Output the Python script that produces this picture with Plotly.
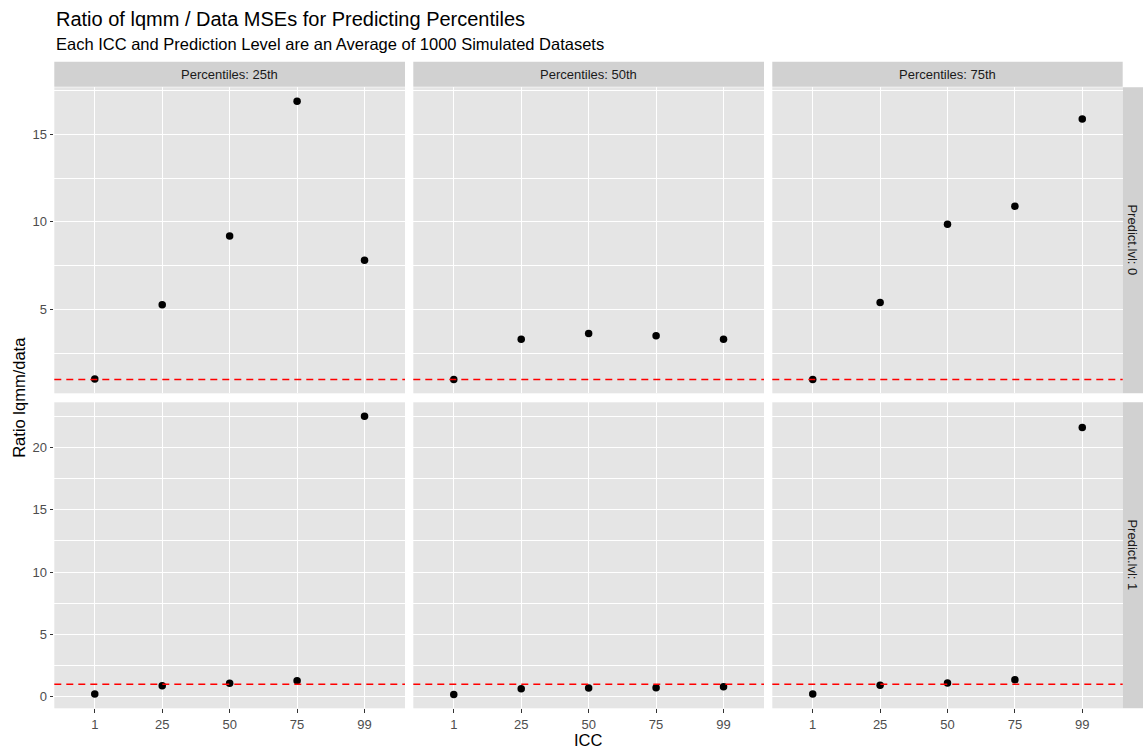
import plotly.graph_objects as go

# ICC levels (discrete x categories)
icc = ["1", "25", "50", "75", "99"]

# Ratio lqmm/data MSE, prediction level 0
p25_lvl0 = [1.02, 5.26, 9.20, 16.90, 7.81]
p50_lvl0 = [1.00, 3.29, 3.63, 3.49, 3.29]
p75_lvl0 = [1.00, 5.40, 9.87, 10.90, 15.89]

# Ratio lqmm/data MSE, prediction level 1
p25_lvl1 = [0.21, 0.88, 1.07, 1.28, 22.50]
p50_lvl1 = [0.18, 0.64, 0.70, 0.72, 0.80]
p75_lvl1 = [0.22, 0.91, 1.10, 1.36, 21.60]

col_labels = ["Percentiles: 25th", "Percentiles: 50th", "Percentiles: 75th"]
row_labels = ["Predict.lvl: 0", "Predict.lvl: 1"]
ref_line = 1.0

rows = [[p25_lvl0, p50_lvl0, p75_lvl0], [p25_lvl1, p50_lvl1, p75_lvl1]]
row_major = [[5, 10, 15], [0, 5, 10, 15, 20]]
row_minor = [[2.5, 7.5, 12.5, 17.5], [2.5, 7.5, 12.5, 17.5, 22.5]]

W, H = 1143, 750
FONT = "Liberation Sans, Arial, Helvetica, sans-serif"
PANEL_BG = "#E5E5E5"
STRIP_BG = "#D1D1D1"
TICK_SIZE = 13
STRIP_SIZE = 13

# panel pixel boxes
col_px = [(54.3, 405.0), (413.3, 764.0), (772.3, 1122.7)]
row_px = [(87.3, 393.3), (402.3, 708.3)]
strip_top = (61.7, 86.7)
strip_right = (1122.7, 1143.0)


def px_x(v):
    return v / W


def px_y(v):
    return 1 - v / H


def expanded(vals):
    lo, hi = min(vals), max(vals)
    pad = 0.05 * (hi - lo)
    return [lo - pad, hi + pad]


fig = go.Figure()
layout = dict(
    width=W, height=H,
    margin=dict(l=0, r=0, t=0, b=0),
    paper_bgcolor="white",
    plot_bgcolor=PANEL_BG,
    showlegend=False,
    font=dict(family=FONT, color="#4D4D4D"),
)
shapes = []
annotations = []

for r in range(2):
    row_vals = [v for series in rows[r] for v in series] + [ref_line]
    yr = expanded(row_vals)
    for c in range(3):
        idx = r * 3 + c + 1
        xa = "xaxis" if idx == 1 else f"xaxis{idx}"
        ya = "yaxis" if idx == 1 else f"yaxis{idx}"
        xref = "x" if idx == 1 else f"x{idx}"
        yref = "y" if idx == 1 else f"y{idx}"

        layout[xa] = dict(
            domain=[px_x(col_px[c][0]), px_x(col_px[c][1])],
            anchor=yref,
            type="category",
            categoryorder="array",
            categoryarray=icc,
            range=[-0.6, len(icc) - 0.4],
            showgrid=True, gridcolor="white", gridwidth=1.1,
            zeroline=False, showline=False,
            ticks="outside" if r == 1 else "",
            ticklen=3.7, tickcolor="#333333", tickwidth=1,
            showticklabels=(r == 1),
            tickfont=dict(size=TICK_SIZE, color="#4D4D4D", family=FONT),
            fixedrange=True,
        )
        layout[ya] = dict(
            domain=[px_y(row_px[r][1]), px_y(row_px[r][0])],
            anchor=xref,
            range=yr,
            tickmode="array",
            tickvals=row_major[r],
            ticktext=[str(v) for v in row_major[r]],
            showgrid=True, gridcolor="white", gridwidth=1.1,
            minor=dict(tickvals=row_minor[r], showgrid=True,
                       gridcolor="white", gridwidth=0.55, ticks=""),
            zeroline=False, showline=False,
            ticks="outside" if c == 0 else "",
            ticklen=3.7, tickcolor="#333333", tickwidth=1,
            showticklabels=(c == 0),
            tickfont=dict(size=TICK_SIZE, color="#4D4D4D", family=FONT),
            fixedrange=True,
        )

        fig.add_trace(go.Scatter(
            x=icc, y=rows[r][c], mode="markers",
            marker=dict(color="black", size=7.5, line=dict(width=0)),
            xaxis=xref, yaxis=yref, cliponaxis=False,
        ))

        # horizontal reference line at ratio 1
        shapes.append(dict(
            type="line", xref=f"{xref} domain", yref=yref,
            x0=0, x1=1, y0=ref_line, y1=ref_line,
            line=dict(color="#FF0000", width=1.5, dash="7px,5px"),
            layer="above",
        ))

# column strips
for c in range(3):
    shapes.append(dict(
        type="rect", xref="paper", yref="paper",
        x0=px_x(col_px[c][0]), x1=px_x(col_px[c][1]),
        y0=px_y(strip_top[1]), y1=px_y(strip_top[0]),
        fillcolor=STRIP_BG, line=dict(width=0), layer="below",
    ))
    annotations.append(dict(
        text=col_labels[c], xref="paper", yref="paper",
        x=px_x((col_px[c][0] + col_px[c][1]) / 2),
        y=px_y((strip_top[0] + strip_top[1]) / 2),
        showarrow=False, xanchor="center", yanchor="middle",
        font=dict(size=STRIP_SIZE, color="#1A1A1A", family=FONT),
    ))

# row strips
for r in range(2):
    shapes.append(dict(
        type="rect", xref="paper", yref="paper",
        x0=px_x(strip_right[0]), x1=px_x(strip_right[1]),
        y0=px_y(row_px[r][1]), y1=px_y(row_px[r][0]),
        fillcolor=STRIP_BG, line=dict(width=0), layer="below",
    ))
    annotations.append(dict(
        text=row_labels[r], xref="paper", yref="paper",
        x=px_x((strip_right[0] + strip_right[1]) / 2),
        y=px_y((row_px[r][0] + row_px[r][1]) / 2),
        showarrow=False, xanchor="center", yanchor="middle", textangle=90,
        font=dict(size=STRIP_SIZE, color="#1A1A1A", family=FONT),
    ))

# titles
annotations.append(dict(
    text="Ratio of lqmm / Data MSEs for Predicting Percentiles",
    xref="paper", yref="paper", x=px_x(54.3), y=px_y(19),
    xanchor="left", yanchor="middle", showarrow=False,
    font=dict(size=20, color="black", family=FONT),
))
annotations.append(dict(
    text="Each ICC and Prediction Level are an Average of 1000 Simulated Datasets",
    xref="paper", yref="paper", x=px_x(54.3), y=px_y(44),
    xanchor="left", yanchor="middle", showarrow=False,
    font=dict(size=16.5, color="black", family=FONT),
))
annotations.append(dict(
    text="ICC", xref="paper", yref="paper",
    x=px_x((54.3 + 1122.7) / 2), y=px_y(740),
    xanchor="center", yanchor="middle", showarrow=False,
    font=dict(size=16.5, color="black", family=FONT),
))
annotations.append(dict(
    text="Ratio lqmm/data", xref="paper", yref="paper",
    x=px_x(19), y=px_y((87.3 + 708.3) / 2),
    xanchor="center", yanchor="middle", showarrow=False, textangle=-90,
    font=dict(size=16.5, color="black", family=FONT),
))

layout["shapes"] = shapes
layout["annotations"] = annotations
fig.update_layout(**layout)

fig.write_html("out.html")
